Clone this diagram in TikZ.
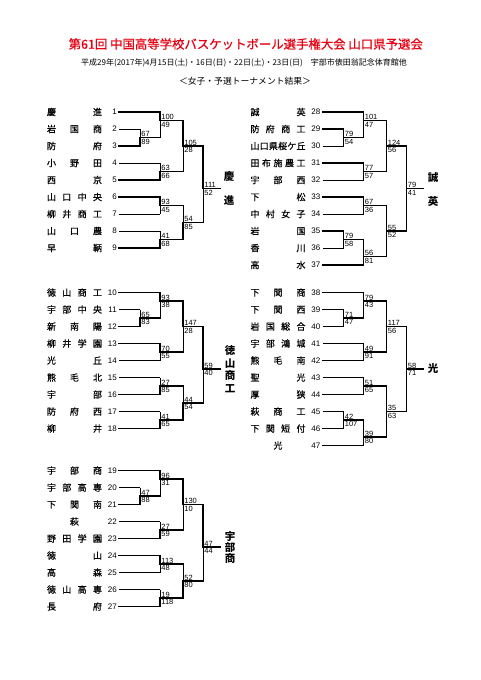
\documentclass[tikz,border=0pt]{standalone}
\usepackage{fontspec}
\setmainfont{Liberation Sans}
\newfontfamily\jp{Noto Sans CJK JP}
\newfontfamily\jpn{Noto Sans CJK JP}[FakeBold=0.6]
\definecolor{tred}{RGB}{230,0,18}
\tikzset{
 win/.style={line width=1.8pt, line cap=rect},
 lose/.style={line width=0.8pt},
 tname/.style={font=\jpn\fontsize{9}{9}\selectfont, inner sep=0pt, text height=7.92pt, text depth=1.08pt},
 tnum/.style={font=\fontsize{8}{8}\selectfont, inner sep=0pt, text height=5.73pt, text depth=0pt, anchor=east},
 score/.style={font=\fontsize{7.5}{7.5}\selectfont, inner sep=0pt, text height=5.37pt, text depth=0pt},
 champ/.style={font=\jp\bfseries\fontsize{10.5}{10.5}\selectfont, inner sep=0pt, text height=9.24pt, text depth=1.26pt},
}
\newcommand\teamL[3]{%
 \node[tname] (n#1) at (74.5,#2) {\makebox[55pt][s]{#3}};
 \node[tnum] (k#1) at (117,#2) {#1};
 \coordinate (t#1) at (119,#2);}
\newcommand\teamR[3]{%
 \node[tname] (n#1) at (278,#2) {\makebox[55pt][s]{#3}};
 \node[tnum] (k#1) at (320.5,#2) {#1};
 \coordinate (t#1) at (322.5,#2);}
\newcommand\mtch[9]{%
 \coordinate (#1a) at (#2,#3);
 \coordinate (#1b) at (#2,#4);
 \coordinate (#1) at (#2,#5);
 \draw[#8] (#1a) -- (#1);
 \draw[#9] (#1) -- (#1b);
 \node[score,anchor=south west] (#1sa) at (#2+1.2,#5-0.8) {#6};
 \node[score,anchor=north west] (#1sb) at (#2+1.2,#5+1.4) {#7};}
\begin{document}
\begin{tikzpicture}[x=1pt,y=-1pt]
\fill[white] (0,0) rectangle (481,680);
\useasboundingbox (0,0) rectangle (481,680);
% titles
\node[font=\jpn\fontsize{12.4}{12.4}\selectfont, text=tred, inner sep=0pt] (title) at (245.8,44) {第61回 中国高等学校バスケットボール選手権大会 山口県予選会};
\node[font=\jp\fontsize{8}{8}\selectfont, inner sep=0pt] (sub) at (244,62.5) {平成29年(2017年)4月15日(土)・16日(日)・22日(土)・23日(日)　宇部市俵田翁記念体育館他};
\node[font=\jp\fontsize{8.8}{8.8}\selectfont, inner sep=0pt] (res) at (245,81) {＜女子・予選トーナメント結果＞};
% ---------------- left top
\teamL{1}{112}{慶\hfill 進}
\teamL{2}{129}{岩\hfill 国\hfill 商}
\teamL{3}{146}{防\hfill 府}
\teamL{4}{163}{小\hfill 野\hfill 田}
\teamL{5}{180}{西\hfill 京}
\teamL{6}{197}{山\hfill 口\hfill 中\hfill 央}
\teamL{7}{214}{柳\hfill 井\hfill 商\hfill 工}
\teamL{8}{231}{山\hfill 口\hfill 農}
\teamL{9}{248}{早\hfill 鞆}
\mtch{m23}{140}{129}{146}{137.5}{67}{89}{lose}{win}
\mtch{m1}{160}{112}{137.5}{120.5}{100}{49}{win}{lose}
\mtch{m45}{160}{163}{180}{171.5}{63}{66}{lose}{win}
\mtch{qa}{183}{120.5}{171.5}{146}{105}{28}{win}{lose}
\mtch{m67}{160}{197}{214}{205.5}{93}{45}{win}{lose}
\mtch{m89}{160}{231}{248}{239.5}{41}{68}{lose}{win}
\mtch{qb}{183}{205.5}{239.5}{222.5}{54}{85}{lose}{win}
\mtch{fa}{203}{146}{222.5}{188.5}{111}{52}{win}{lose}
\draw[lose] (t2) -- (m23a); \draw[win] (t3) -- (m23b);
\draw[win] (t1) -- (m1a); \draw[win] (m23) -- (m1b);
\draw[lose] (t4) -- (m45a); \draw[win] (t5) -- (m45b);
\draw[win] (m1) -- (qaa); \draw[win] (m45) -- (qab);
\draw[win] (t6) -- (m67a); \draw[lose] (t7) -- (m67b);
\draw[lose] (t8) -- (m89a); \draw[win] (t9) -- (m89b);
\draw[win] (m67) -- (qba); \draw[win] (m89) -- (qbb);
\draw[win] (qa) -- (faa); \draw[win] (qb) -- (fab);
\coordinate (ea) at (220,188.5); \draw[win] (fa) -- (ea);
\node[champ] (ca1) at (229,177) {慶};
\node[champ] (ca2) at (229,201) {進};
% ---------------- left middle
\teamL{10}{292.5}{徳\hfill 山\hfill 商\hfill 工}
\teamL{11}{309.5}{宇\hfill 部\hfill 中\hfill 央}
\teamL{12}{326.5}{新\hfill 南\hfill 陽}
\teamL{13}{343.5}{柳\hfill 井\hfill 学\hfill 園}
\teamL{14}{360.5}{光\hfill 丘}
\teamL{15}{377.5}{熊\hfill 毛\hfill 北}
\teamL{16}{394.5}{宇\hfill 部}
\teamL{17}{411.5}{防\hfill 府\hfill 西}
\teamL{18}{428.5}{柳\hfill 井}
\mtch{m1112}{140}{309.5}{326.5}{318}{65}{83}{lose}{win}
\mtch{m10}{160}{292.5}{318}{301}{93}{38}{win}{lose}
\mtch{m1314}{160}{343.5}{360.5}{352}{70}{55}{win}{lose}
\mtch{qc}{183}{301}{352}{326.5}{147}{28}{win}{lose}
\mtch{m1516}{160}{377.5}{394.5}{386}{27}{85}{lose}{win}
\mtch{m1718}{160}{411.5}{428.5}{420}{41}{65}{lose}{win}
\mtch{qd}{183}{386}{420}{403}{44}{54}{lose}{win}
\mtch{fb}{203}{326.5}{403}{369}{59}{40}{win}{lose}
\draw[lose] (t11) -- (m1112a); \draw[win] (t12) -- (m1112b);
\draw[win] (t10) -- (m10a); \draw[win] (m1112) -- (m10b);
\draw[win] (t13) -- (m1314a); \draw[lose] (t14) -- (m1314b);
\draw[win] (m10) -- (qca); \draw[win] (m1314) -- (qcb);
\draw[lose] (t15) -- (m1516a); \draw[win] (t16) -- (m1516b);
\draw[lose] (t17) -- (m1718a); \draw[win] (t18) -- (m1718b);
\draw[win] (m1516) -- (qda); \draw[win] (m1718) -- (qdb);
\draw[win] (qc) -- (fba); \draw[win] (qd) -- (fbb);
\coordinate (eb) at (220,369); \draw[win] (fb) -- (eb);
\node[champ] (cb1) at (230,351) {徳};
\node[champ] (cb2) at (230,363.5) {山};
\node[champ] (cb3) at (230,376) {商};
\node[champ] (cb4) at (230,388.5) {工};
% ---------------- left bottom
\teamL{19}{470.5}{宇\hfill 部\hfill 商}
\teamL{20}{487.5}{宇\hfill 部\hfill 高\hfill 専}
\teamL{21}{504.5}{下\hfill 関\hfill 南}
\teamL{22}{521.5}{\hfill 萩\hfill}
\teamL{23}{538.5}{野\hfill 田\hfill 学\hfill 園}
\teamL{24}{555.5}{徳\hfill 山}
\teamL{25}{572.5}{高\hfill 森}
\teamL{26}{589.5}{徳\hfill 山\hfill 高\hfill 専}
\teamL{27}{606.5}{長\hfill 府}
\mtch{m2021}{140}{487.5}{504.5}{496}{47}{88}{lose}{win}
\mtch{m19}{160}{470.5}{496}{479}{96}{31}{win}{lose}
\mtch{m2223}{160}{521.5}{538.5}{530}{27}{59}{lose}{win}
\mtch{qe}{183}{479}{530}{504.5}{130}{10}{win}{lose}
\mtch{m2425}{160}{555.5}{572.5}{564}{113}{48}{win}{lose}
\mtch{m2627}{160}{589.5}{606.5}{598}{19}{118}{lose}{win}
\mtch{qf}{183}{564}{598}{581}{52}{80}{lose}{win}
\mtch{fc}{203}{504.5}{581}{547}{47}{44}{win}{lose}
\draw[lose] (t20) -- (m2021a); \draw[win] (t21) -- (m2021b);
\draw[win] (t19) -- (m19a); \draw[win] (m2021) -- (m19b);
\draw[lose] (t22) -- (m2223a); \draw[win] (t23) -- (m2223b);
\draw[win] (m19) -- (qea); \draw[win] (m2223) -- (qeb);
\draw[win] (t24) -- (m2425a); \draw[lose] (t25) -- (m2425b);
\draw[lose] (t26) -- (m2627a); \draw[win] (t27) -- (m2627b);
\draw[win] (m2425) -- (qfa); \draw[win] (m2627) -- (qfb);
\draw[win] (qe) -- (fca); \draw[win] (qf) -- (fcb);
\coordinate (ec) at (220,547); \draw[win] (fc) -- (ec);
\node[champ] (cc1) at (230,536.5) {宇};
\node[champ] (cc2) at (230,547.3) {部};
\node[champ] (cc3) at (230,558.4) {商};
% ---------------- right top
\teamR{28}{112}{誠\hfill 英}
\teamR{29}{129}{防\hfill 府\hfill 商\hfill 工}
\teamR{30}{146}{山\hfill 口\hfill 県\hfill 桜\hfill ケ\hfill 丘}
\teamR{31}{163}{田\hfill 布\hfill 施\hfill 農\hfill 工}
\teamR{32}{180}{宇\hfill 部\hfill 西}
\teamR{33}{197}{下\hfill 松}
\teamR{34}{214}{中\hfill 村\hfill 女\hfill 子}
\teamR{35}{231}{岩\hfill 国}
\teamR{36}{248}{香\hfill 川}
\teamR{37}{265}{高\hfill 水}
\mtch{m2930}{343.5}{129}{146}{137.5}{79}{54}{win}{lose}
\mtch{m28}{363.5}{112}{137.5}{120.5}{101}{47}{win}{lose}
\mtch{m3132}{363.5}{163}{180}{171.5}{77}{57}{win}{lose}
\mtch{qg}{386.5}{120.5}{171.5}{146}{124}{56}{win}{lose}
\mtch{m3334}{363.5}{197}{214}{205.5}{67}{36}{win}{lose}
\mtch{m3536}{343.5}{231}{248}{239.5}{79}{58}{win}{lose}
\mtch{m37}{363.5}{239.5}{265}{256.5}{56}{81}{lose}{win}
\mtch{qh}{386.5}{205.5}{256.5}{231}{55}{52}{win}{lose}
\mtch{fd}{406.5}{146}{231}{188.5}{79}{41}{win}{lose}
\draw[win] (t29) -- (m2930a); \draw[lose] (t30) -- (m2930b);
\draw[win] (t28) -- (m28a); \draw[win] (m2930) -- (m28b);
\draw[win] (t31) -- (m3132a); \draw[lose] (t32) -- (m3132b);
\draw[win] (m28) -- (qga); \draw[win] (m3132) -- (qgb);
\draw[win] (t33) -- (m3334a); \draw[lose] (t34) -- (m3334b);
\draw[win] (t35) -- (m3536a); \draw[lose] (t36) -- (m3536b);
\draw[win] (m3536) -- (m37a); \draw[win] (t37) -- (m37b);
\draw[win] (m3334) -- (qha); \draw[win] (m37) -- (qhb);
\draw[win] (qg) -- (fda); \draw[win] (qh) -- (fdb);
\coordinate (ed) at (423.5,188.5); \draw[win] (fd) -- (ed);
\node[champ] (cd1) at (433,177.7) {誠};
\node[champ] (cd2) at (433,201.7) {英};
% ---------------- right middle
\teamR{38}{292.5}{下\hfill 関\hfill 商}
\teamR{39}{309.5}{下\hfill 関\hfill 西}
\teamR{40}{326.5}{岩\hfill 国\hfill 総\hfill 合}
\teamR{41}{343.5}{宇\hfill 部\hfill 鴻\hfill 城}
\teamR{42}{360.5}{熊\hfill 毛\hfill 南}
\teamR{43}{377.5}{聖\hfill 光}
\teamR{44}{394.5}{厚\hfill 狭}
\teamR{45}{411.5}{萩\hfill 商\hfill 工}
\teamR{46}{428.5}{下\hfill 関\hfill 短\hfill 付}
\teamR{47}{445.5}{\hfill 光\hfill}
\mtch{m3940}{343.5}{309.5}{326.5}{318}{71}{47}{win}{lose}
\mtch{m38}{363.5}{292.5}{318}{301}{79}{43}{win}{lose}
\mtch{m4142}{363.5}{343.5}{360.5}{352}{49}{91}{lose}{win}
\mtch{qi}{386.5}{301}{352}{326.5}{117}{56}{win}{lose}
\mtch{m4344}{363.5}{377.5}{394.5}{386}{51}{65}{lose}{win}
\mtch{m4546}{343.5}{411.5}{428.5}{420}{42}{107}{lose}{win}
\mtch{m47}{363.5}{420}{445.5}{437}{39}{80}{lose}{win}
\mtch{qj}{386.5}{386}{437}{411.5}{35}{63}{lose}{win}
\mtch{fe}{406.5}{326.5}{411.5}{369}{58}{71}{lose}{win}
\draw[win] (t39) -- (m3940a); \draw[lose] (t40) -- (m3940b);
\draw[win] (t38) -- (m38a); \draw[win] (m3940) -- (m38b);
\draw[lose] (t41) -- (m4142a); \draw[win] (t42) -- (m4142b);
\draw[win] (m38) -- (qia); \draw[win] (m4142) -- (qib);
\draw[lose] (t43) -- (m4344a); \draw[win] (t44) -- (m4344b);
\draw[lose] (t45) -- (m4546a); \draw[win] (t46) -- (m4546b);
\draw[win] (m4546) -- (m47a); \draw[win] (t47) -- (m47b);
\draw[win] (m4344) -- (qja); \draw[win] (m47) -- (qjb);
\draw[win] (qi) -- (fea); \draw[win] (qj) -- (feb);
\coordinate (ee) at (423.5,369); \draw[win] (fe) -- (ee);
\node[champ] (ce1) at (433,369) {光};
\end{tikzpicture}
\end{document}
